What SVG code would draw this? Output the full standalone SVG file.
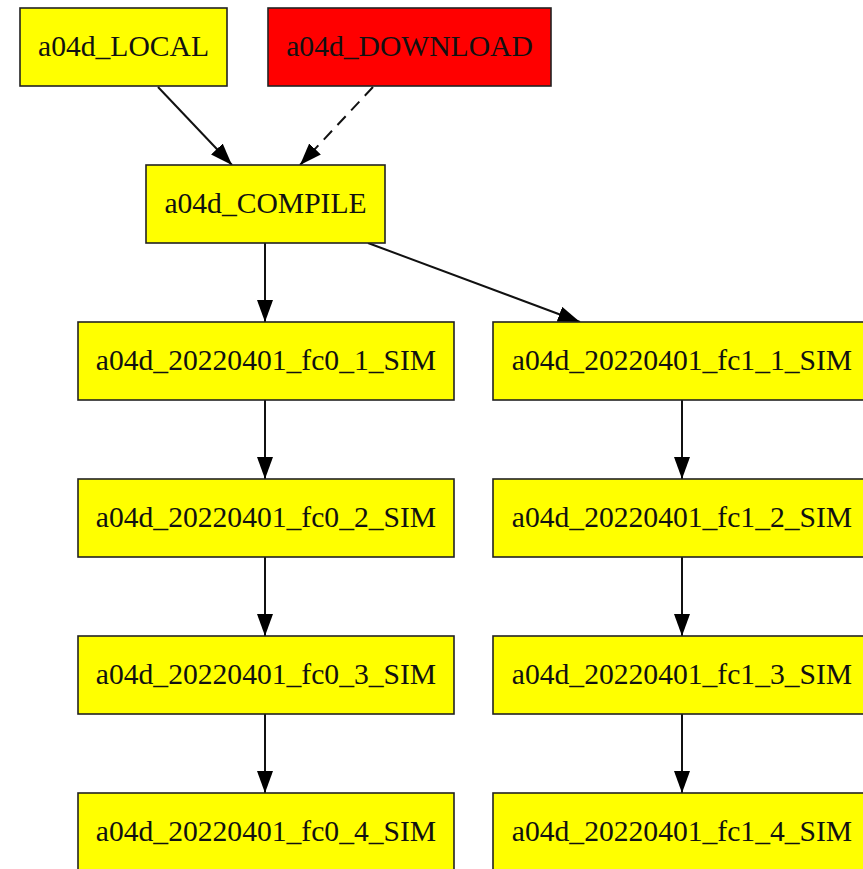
<svg xmlns="http://www.w3.org/2000/svg" width="863" height="869" viewBox="0 0 863 869">
<style>
.n{fill:#ffff00;stroke:#222;stroke-width:1.6}
.r{fill:#ff0000;stroke:#222;stroke-width:1.6}
.t{font-family:"Liberation Serif","Times New Roman",serif;font-size:29.6px;fill:#111;text-anchor:middle}
.e{fill:none;stroke:#111;stroke-width:2;marker-end:url(#ah)}
.d{stroke-dasharray:12,8}
</style>
<defs>
<marker id="ah" viewBox="0 0 22 16" markerWidth="22" markerHeight="16" markerUnits="userSpaceOnUse" refX="22" refY="8" orient="auto">
<path d="M0,0 L22,8 L0,16 z" fill="#000"/>
</marker>
</defs>
<rect width="863" height="869" fill="#fff"/>
<g id="edges">
<line class="e" x1="158" y1="87" x2="232" y2="165"/>
<line class="e d" x1="373" y1="87" x2="300" y2="165"/>
<line class="e" x1="265" y1="243" x2="265" y2="322"/>
<line class="e" x1="368" y1="243" x2="580" y2="322"/>
<line class="e" x1="265" y1="400" x2="265" y2="479"/>
<line class="e" x1="265" y1="557" x2="265" y2="636"/>
<line class="e" x1="265" y1="714" x2="265" y2="793"/>
<line class="e" x1="682" y1="400" x2="682" y2="479"/>
<line class="e" x1="682" y1="557" x2="682" y2="636"/>
<line class="e" x1="682" y1="714" x2="682" y2="793"/>
</g>
<g id="LOCAL"><rect class="n" x="20" y="8" width="207" height="78"/><text class="t" x="123.5" y="56">a04d_LOCAL</text></g>
<g id="DOWNLOAD"><rect class="r" x="268" y="8" width="283" height="78"/><text class="t" x="409.5" y="56">a04d_DOWNLOAD</text></g>
<g id="COMPILE"><rect class="n" x="146" y="165" width="239" height="78"/><text class="t" x="265.5" y="213">a04d_COMPILE</text></g>
<g id="fc0_1"><rect class="n" x="78" y="322" width="376" height="78"/><text class="t" x="266" y="370">a04d_20220401_fc0_1_SIM</text></g>
<g id="fc0_2"><rect class="n" x="78" y="479" width="376" height="78"/><text class="t" x="266" y="527">a04d_20220401_fc0_2_SIM</text></g>
<g id="fc0_3"><rect class="n" x="78" y="636" width="376" height="78"/><text class="t" x="266" y="684">a04d_20220401_fc0_3_SIM</text></g>
<g id="fc0_4"><rect class="n" x="78" y="793" width="376" height="78"/><text class="t" x="266" y="841">a04d_20220401_fc0_4_SIM</text></g>
<g id="fc1_1"><rect class="n" x="493" y="322" width="378" height="78"/><text class="t" x="682" y="370">a04d_20220401_fc1_1_SIM</text></g>
<g id="fc1_2"><rect class="n" x="493" y="479" width="378" height="78"/><text class="t" x="682" y="527">a04d_20220401_fc1_2_SIM</text></g>
<g id="fc1_3"><rect class="n" x="493" y="636" width="378" height="78"/><text class="t" x="682" y="684">a04d_20220401_fc1_3_SIM</text></g>
<g id="fc1_4"><rect class="n" x="493" y="793" width="378" height="78"/><text class="t" x="682" y="841">a04d_20220401_fc1_4_SIM</text></g>
</svg>
